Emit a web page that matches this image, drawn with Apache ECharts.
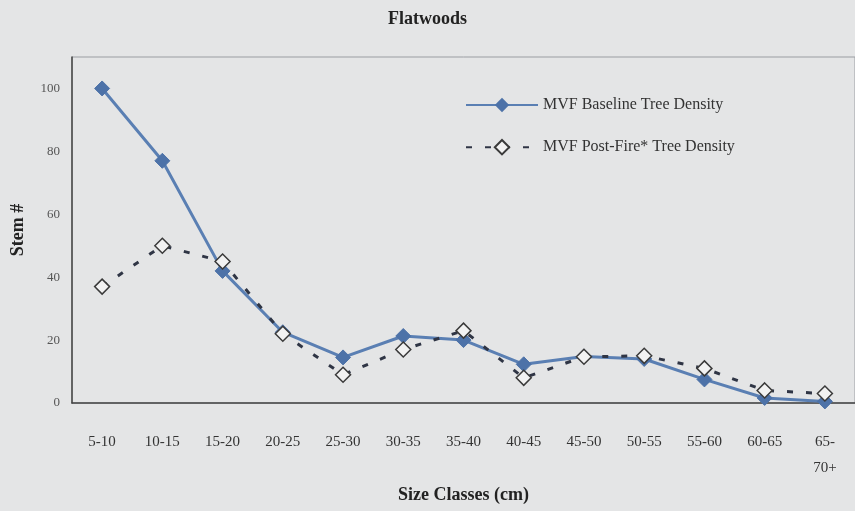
<!DOCTYPE html>
<html><head><meta charset="utf-8">
<script src="https://cdn.jsdelivr.net/npm/echarts@6/dist/echarts.min.js"></script>
<style>html,body{margin:0;padding:0;background:#e4e5e6;}#c{width:855px;height:511px;}</style>
</head><body><div id="c"></div>
<script>
const categories = ["5-10","10-15","15-20","20-25","25-30","30-35","35-40","40-45","45-50","50-55","55-60","60-65","65-70+"];
const baseline = [100, 77, 42, 22.5, 14.5, 21.3, 20, 12.3, 14.8, 14, 7.5, 1.6, 0.5];
const postFire = [37, 50, 45, 22, 9, 17, 23, 8, 14.7, 15, 11, 4, 3];
const yTicks = [0, 20, 40, 60, 80, 100];

const serif = '"Liberation Serif","Times New Roman",serif';
const chart = echarts.init(document.getElementById('c'));
chart.setOption({
  backgroundColor: '#e4e5e6',
  animation: false,
  title: {text: 'Flatwoods', left: 'center', top: 5,
    textStyle: {fontFamily: serif, fontWeight: 'bold', fontSize: 18, color: '#222'}},
  legend: {orient: 'vertical', left: 460, top: 92, itemWidth: 72, itemHeight: 18, itemGap: 26,
    textStyle: {fontFamily: serif, fontSize: 16, color: '#333'},
    data: ['MVF Baseline Tree Density', 'MVF Post-Fire* Tree Density']},
  grid: {left: 72, right: 0, top: 57, bottom: 108, outerBoundsMode: 'none', containLabel: false,
    show: true, borderColor: '#9a9da2', borderWidth: 1, backgroundColor: 'transparent'},
  xAxis: {type: 'category', data: categories, boundaryGap: true,
    name: 'Size Classes (cm)', nameLocation: 'middle', nameGap: 80,
    nameTextStyle: {fontFamily: serif, fontWeight: 'bold', fontSize: 18, color: '#222'},
    axisLine: {lineStyle: {color: '#444', width: 1.5}},
    axisTick: {show: false},
    axisLabel: {fontFamily: serif, fontSize: 15, color: '#333', margin: 26, interval: 0, lineHeight: 26,
      formatter: v => v === '65-70+' ? '65-\n70+' : v}},
  yAxis: {type: 'value', min: 0, max: 110, interval: 20,
    name: 'Stem #', nameLocation: 'middle', nameGap: 45, nameRotate: 90,
    nameTextStyle: {fontFamily: serif, fontWeight: 'bold', fontSize: 18, color: '#222'},
    axisLine: {show: true, lineStyle: {color: '#444', width: 1.5}},
    axisTick: {show: false},
    splitLine: {show: false},
    axisLabel: {fontFamily: serif, fontSize: 13, color: '#555', margin: 12, showMaxLabel: false,
      formatter: v => yTicks.includes(v) ? String(v) : ''}},
  series: [
    {name: 'MVF Baseline Tree Density', type: 'line', data: baseline,
      symbol: 'diamond', symbolSize: 15,
      lineStyle: {color: '#5a7fb3', width: 3},
      itemStyle: {color: '#4d72a8', borderColor: '#4d72a8'}, z: 2},
    {name: 'MVF Post-Fire* Tree Density', type: 'line', data: postFire,
      symbol: 'diamond', symbolSize: 15,
      lineStyle: {color: '#2f3545', width: 3, type: [6, 13]},
      itemStyle: {color: '#f2f2f2', borderColor: '#3a3a3a', borderWidth: 1.5}, z: 3}
  ]
});
</script></body></html>
